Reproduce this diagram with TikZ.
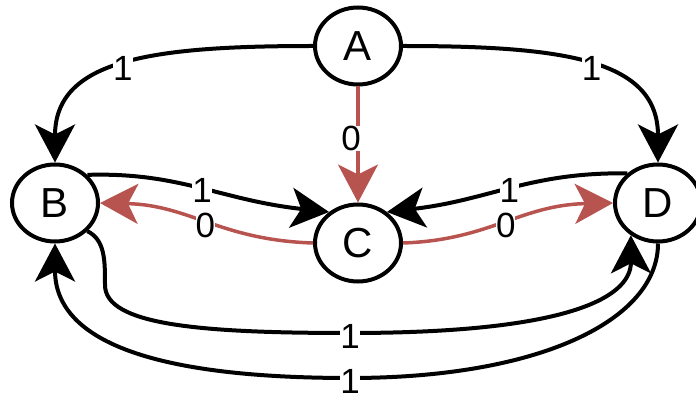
\documentclass[tikz,border=0pt]{standalone}
\usepackage{fontspec}
\setmainfont{Liberation Sans}
\usetikzlibrary{arrows.meta,shapes.geometric}
\definecolor{redline}{HTML}{B85450}
\begin{document}
\begin{tikzpicture}[x=1pt,y=-1pt,
  state/.style={draw, ellipse, line width=4pt, minimum width=86pt, minimum height=77pt, inner sep=0pt, font=\fontsize{42}{42}\selectfont},
  tip/.style={-{Stealth[length=38pt,width=40pt,inset=10pt]}},
  blk/.style={tip, line width=4pt, black},
  redl/.style={tip, line width=3.5pt, redline},
  lbl/.style={fill=white, inner sep=0pt, text=black, yshift=-3pt, font=\fontsize{35}{35}\selectfont}
]
\useasboundingbox (0,0) rectangle (696,395);

\node[state] (A) at (358,46) {A};
\node[state] (B) at (55,203) {B};
\node[state] (C) at (358,243) {C};
\node[state] (D) at (658,203) {D};

% top edges
\draw[blk] (A.west) .. controls (150,46) and (55,60) .. (B.north) node[lbl,pos=0.5] {1};
\draw[blk] (A.east) .. controls (566,46) and (658,60) .. (D.north) node[lbl,pos=0.5] {1};
\draw[redl] (A.south) -- (C.north) node[lbl,pos=0.42,xshift=-7pt] {0};

% middle edges
\draw[blk] (B.41) .. controls (180,172) and (220,200) .. (C.133) node[lbl,pos=0.5] {1};
\draw[redl] (C.west) .. controls (220,240) and (190,205) .. (B.east) node[lbl,pos=0.5] {0};
\draw[blk] (D.136) .. controls (530,172) and (490,200) .. (C.47) node[lbl,pos=0.5] {1};
\draw[redl] (C.east) .. controls (490,240) and (520,205) .. (D.west) node[lbl,pos=0.5] {0};

% bottom edges
\draw[blk] (B.319) .. controls (105,240) and (105,260) .. (105,285)
  .. controls (105,325) and (200,333) .. (350,333) node[lbl] {1}
  .. controls (560,333) and (631,300) .. (D.230);
\draw[blk] (D.south) .. controls (658,320) and (540,378) .. (350,378) node[lbl] {1}
  .. controls (150,378) and (55,340) .. (B.south);
\end{tikzpicture}
\end{document}
